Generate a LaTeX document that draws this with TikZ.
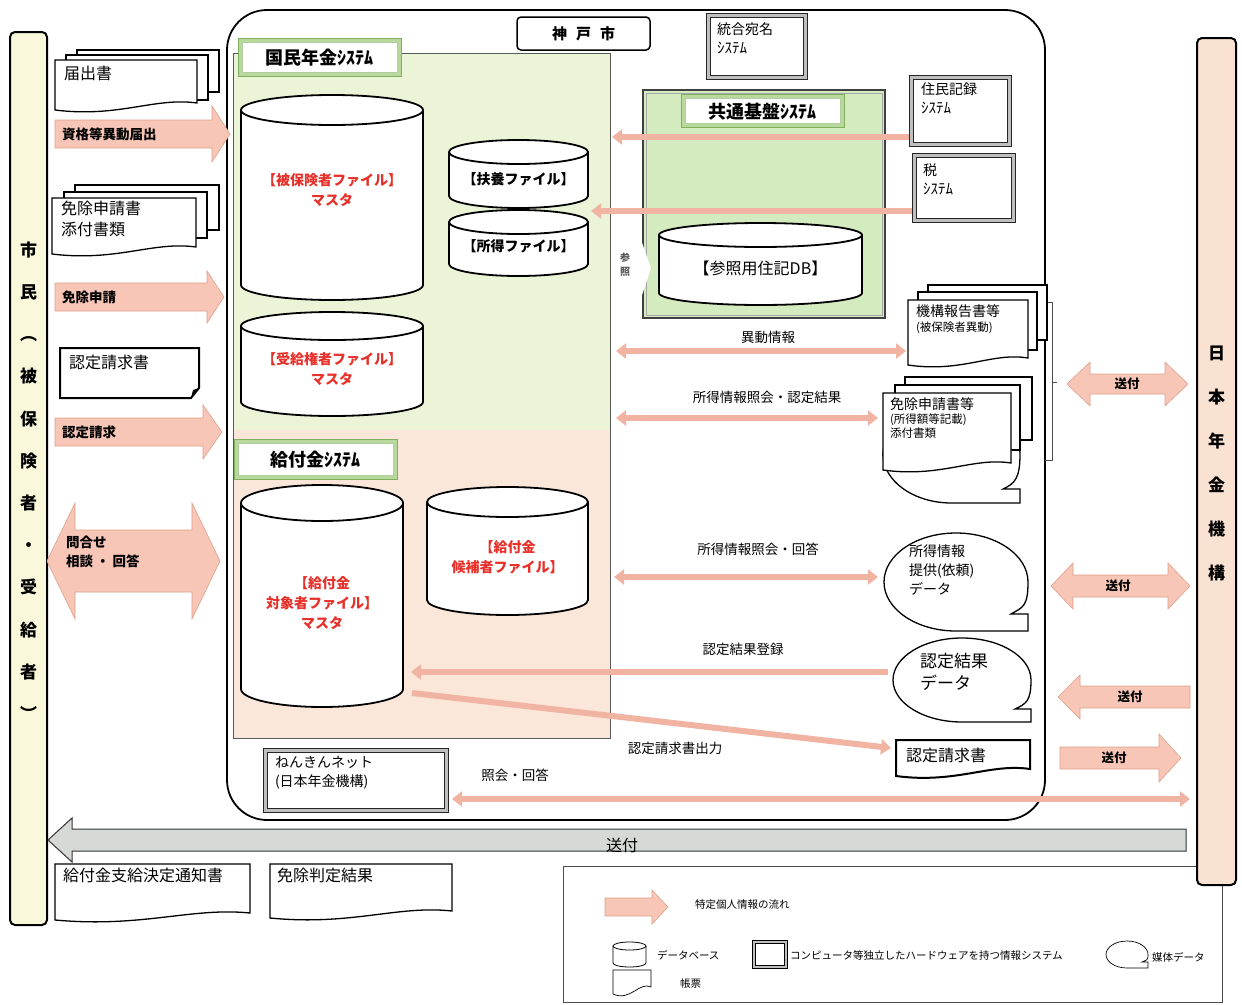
\documentclass[tikz,border=0pt]{standalone}
\usepackage{fontspec}
\setmainfont{Noto Sans CJK JP}
\usetikzlibrary{arrows.meta}
\definecolor{natg}{HTML}{ECF4D8}
\definecolor{kyuf}{HTML}{FBE6DA}
\definecolor{kyog}{HTML}{D4EBC0}
\definecolor{pinkF}{HTML}{F7C6B6}
\definecolor{pinkE}{HTML}{DFA08C}
\definecolor{pinkT}{HTML}{F1B4A2}
\definecolor{citz}{HTML}{FAF8DA}
\definecolor{jpn}{HTML}{FAE2D3}
\definecolor{hdrg}{HTML}{B8D89C}
\definecolor{hdrE}{HTML}{7FAF5F}
\definecolor{redt}{HTML}{E8302A}
\definecolor{greyA}{HTML}{D6DAD6}
\newcommand\cyl[6][dbline]{%
 \pgfmathsetmacro\ccx{(#2+#4)/2}\pgfmathsetmacro\crx{(#4-#2)/2}%
 \pgfmathsetmacro\cyt{#3+#6}\pgfmathsetmacro\cyb{#5-#6}%
 \draw[#1] (#2,\cyt) -- (#2,\cyb) arc[start angle=180,end angle=360,x radius=\crx pt,y radius=#6pt] -- (#4,\cyt);
 \draw[#1] (\ccx,\cyt) ellipse[x radius=\crx pt,y radius=#6pt];}
\newcommand\sysbox[4]{%
 \draw[fill=gray!50, draw=black!85, line width=1pt] (#1,#2) rectangle (#3,#4);
 \draw[fill=white, draw=black!85, line width=0.8pt] ({#1+4},{#2+4}) rectangle ({#3-4},{#4-4});}
\newcommand\hdrbox[4]{%
 \draw[fill=hdrg, draw=hdrE, line width=0.8pt] (#1,#2) rectangle (#3,#4);
 \draw[fill=white, draw=hdrE!60, line width=0.6pt] ({#1+4},{#2+4}) rectangle ({#3-4},{#4-4});}
\newcommand\docshape[5][docline]{%
 \pgfmathsetmacro\dcw{#4-#2}%
 \draw[#1] (#2,#3) -- (#4,#3) -- (#4,{#5-9}) .. controls ({#4-0.3*\dcw},{#5-15}) and ({#2+0.45*\dcw},{#5+6}) .. (#2,{#5-2}) -- cycle;}
\newcommand\bubble[7][docline]{%
 \pgfmathsetmacro\bcx{(#2+#4)/2}\pgfmathsetmacro\bcy{(#3+#5)/2}%
 \pgfmathsetmacro\brx{(#4-#2)/2}\pgfmathsetmacro\bry{(#5-#3)/2}%
 \pgfmathsetmacro\bkx{0.552*\brx}\pgfmathsetmacro\bky{0.552*\bry}%
 \draw[#1] (\bcx,#5) .. controls ({\bcx-\bkx},#5) and (#2,{\bcy+\bky}) .. (#2,\bcy)
   .. controls (#2,{\bcy-\bky}) and ({\bcx-\bkx},#3) .. (\bcx,#3)
   .. controls ({\bcx+\bkx},#3) and (#4,{\bcy-\bky}) .. (#4,\bcy)
   .. controls (#4,{\bcy+0.5*\bry}) and ({#4-#7*0.3},{#5-#6-#6*0.4}) .. ({#4-#7},{#5-#6})
   -- (#4,{#5-#6}) -- (#4,#5) -- cycle;}
\newcommand\blockR[7][blockpink]{%
 \pgfmathsetmacro\bxa{#3-#7}%
 \draw[#1] (#2,{#4-#5}) -- (\bxa,{#4-#5}) -- (\bxa,{#4-#6}) -- (#3,#4) -- (\bxa,{#4+#6}) -- (\bxa,{#4+#5}) -- (#2,{#4+#5}) -- cycle;}
\newcommand\blockL[7][blockpink]{%
 \pgfmathsetmacro\bxa{#2+#7}%
 \draw[#1] (#3,{#4-#5}) -- (\bxa,{#4-#5}) -- (\bxa,{#4-#6}) -- (#2,#4) -- (\bxa,{#4+#6}) -- (\bxa,{#4+#5}) -- (#3,{#4+#5}) -- cycle;}
\newcommand\blockD[7][blockpink]{%
 \pgfmathsetmacro\bxa{#2+#7}\pgfmathsetmacro\bxb{#3-#7}%
 \draw[#1] (#2,#4) -- (\bxa,{#4-#6}) -- (\bxa,{#4-#5}) -- (\bxb,{#4-#5}) -- (\bxb,{#4-#6}) -- (#3,#4) -- (\bxb,{#4+#6}) -- (\bxb,{#4+#5}) -- (\bxa,{#4+#5}) -- (\bxa,{#4+#6}) -- cycle;}
\begin{document}
\begin{tikzpicture}[x=1pt,y=-1pt,
  every node/.style={inner sep=0pt,outer sep=0pt},
  dbline/.style={draw=black,line width=1.8pt,fill=white},
  dbthin/.style={draw=black,line width=0.8pt,fill=white},
  docline/.style={draw=black,line width=1.3pt,fill=white},
  docthick/.style={draw=black,line width=2pt,fill=white},
  docthin/.style={draw=black,line width=0.7pt,fill=white},
  blockpink/.style={fill=pinkF,draw=pinkE,line width=0.6pt},
  greyar/.style={fill=greyA,draw=black!80,line width=1pt},
  thinar/.style={draw=pinkT,line width=6pt,-{Triangle[length=10pt,width=15pt]}},
  thinarD/.style={draw=pinkT,line width=6pt,{Triangle[length=10pt,width=15pt]}-{Triangle[length=10pt,width=15pt]}},
  redtxt/.style={text=redt,font=\fontsize{14}{20}\selectfont\bfseries,align=center},
  dbtxt/.style={font=\fontsize{14}{18}\selectfont\bfseries,align=center},
  hdrtxt/.style={font=\fontsize{18}{20}\selectfont\bfseries},
  lbl/.style={font=\fontsize{13.5}{15}\selectfont},
  arlbl/.style={font=\fontsize{13.5}{16}\selectfont\bfseries,anchor=west},
  sendlbl/.style={font=\fontsize{12.5}{14}\selectfont\bfseries},
  doctxt/.style={font=\fontsize{16}{21}\selectfont,align=left,anchor=north west},
  systxt/.style={font=\fontsize{14}{19}\selectfont,align=left,anchor=north west},
  smalltxt/.style={font=\fontsize{11.5}{14}\selectfont},
  legtxt/.style={font=\fontsize{10.5}{12}\selectfont,anchor=west},
]
\useasboundingbox (0,0) rectangle (1242,1004);
\fill[white] (0,0) rectangle (1242,1004);

% legend frame
\draw[line width=0.8pt, draw=gray!60!black] (563,866) rectangle (1222,1002);

% side columns
\draw[fill=citz, line width=2pt, rounded corners=5pt] (10,32) rectangle (47,925);
\node[font=\fontsize{17}{42.2}\selectfont\bfseries, align=center] (citizen) at (28.5,481)
 {市\\民\\︵\\被\\保\\険\\者\\・\\受\\給\\者\\︶};
\draw[fill=jpn, line width=2pt, rounded corners=5pt] (1197,38) rectangle (1236,885);
\node[font=\fontsize{17}{44}\selectfont\bfseries, align=center] (jpo) at (1216.5,464)
 {日\\本\\年\\金\\機\\構};

% Kobe city frame
\draw[line width=1.8pt, rounded corners=40pt] (227,10) rectangle (1045,820);
\draw[line width=1.5pt, rounded corners=4pt, fill=white] (517,17) rectangle (650,50);
\node[font=\fontsize{15}{17}\selectfont\bfseries] (kobe) at (583.5,33.5) {神\hspace{9pt}戸\hspace{9pt}市};

% system regions
\fill[natg] (233,53) rectangle (610,430);
\fill[kyuf] (233,430) rectangle (610,738);
\draw[gray!70!black, line width=0.9pt] (233,53) rectangle (610,738);
\hdrbox{238}{38}{401}{76}
\node[hdrtxt] (hNat) at (319.5,57.5) {国民年金ｼｽﾃﾑ};
\hdrbox{234}{439}{397}{479}
\node[hdrtxt] (hKyu) at (315.5,459.5) {給付金ｼｽﾃﾑ};

% databases
\cyl{241}{95}{423}{300}{15}
\node[redtxt] (dbHiho) at (332,190) {【被保険者ファイル】\\マスタ};
\cyl{241}{312}{423}{416}{14}
\node[redtxt] (dbJuky) at (332,369) {【受給権者ファイル】\\マスタ};
\cyl{449}{140}{588}{208}{12}
\node[dbtxt] (dbFuyo) at (518.5,179) {【扶養ファイル】};
\cyl{449}{210}{588}{276}{12}
\node[dbtxt] (dbShot) at (518.5,246) {【所得ファイル】};
\cyl{241}{485}{403}{707}{18}
\node[redtxt] (dbTais) at (322,603) {【給付金\\対象者ファイル】\\マスタ};
\cyl{427}{487}{588}{615}{15}
\node[redtxt] (dbKoho) at (507.5,557) {【給付金\\候補者ファイル】};

% common platform
\draw[fill=kyog, draw=gray!50!black, line width=1.6pt] (643,90) rectangle (885,318);
\draw[draw=gray!70, line width=0.5pt] (646,93) rectangle (882,315);
\hdrbox{681}{94}{844}{127}
\node[hdrtxt] (hKyo) at (762.5,112) {共通基盤ｼｽﾃﾑ};
\cyl{659}{223}{862}{305}{12}
\node[font=\fontsize{16}{18}\selectfont] (dbSan) at (760.5,268) {【参照用住記DB】};
\fill[white] (641,240) -- (651,268) -- (641,298) -- cycle;
\node[font=\fontsize{10}{14}\selectfont\bfseries, text=gray!70!black, align=center] (sansho) at (625,265) {参\\照};

% other systems
\sysbox{706}{13}{807}{79}
\node[systxt] (tougou) at (717,23) {統合宛名\\{\fontsize{15}{16}\selectfont ｼｽﾃﾑ}};
\sysbox{909}{75}{1011}{146}
\node[systxt] (jumin) at (921,83) {住民記録\\{\fontsize{15}{16}\selectfont ｼｽﾃﾑ}};
\sysbox{912}{153}{1015}{222}
\node[systxt] (zei) at (923,164) {税\\{\fontsize{15}{16}\selectfont ｼｽﾃﾑ}};
\sysbox{263}{748}{448}{812}
\node[systxt] (nenkin) at (275,756) {ねんきんネット\\(日本年金機構)};

% bracket
\draw[gray!60!black, line width=0.7pt] (1045,302) -- (1052,302) -- (1052,460) -- (1045,460);
\draw[gray!60!black, line width=0.7pt] (1052,382) -- (1057,382);

% right documents and media
\bubble{883}{405}{1020}{503}{14}{17}
\draw[docline] (928,285) rectangle (1047,340);
\draw[docline] (918,292) rectangle (1037,350);
\docshape{908}{300}{1028}{367}
\node[systxt] (kikou) at (916,305) {機構報告書等\\[-4pt]{\fontsize{11.5}{13}\selectfont (被保険者異動)}};
\draw[docline] (905,377) rectangle (1032,440);
\draw[docline] (895,385) rectangle (1020,450);
\docshape{883}{393}{1011}{472}
\node[systxt] (menjoR) at (890,398) {免除申請書等\\[-5pt]{\fontsize{11.5}{14}\selectfont (所得額等記載)}\\[-5pt]{\fontsize{11.5}{14}\selectfont 添付書類}};
\bubble{884}{533}{1028}{631}{17}{17}
\node[systxt] (shotokuD) at (909,545) {所得情報\\提供(依頼)\\データ};
\bubble{893}{638}{1031}{722}{13}{16}
\node[font=\fontsize{17}{22}\selectfont, align=left, anchor=north west] (ninteiD) at (920,653) {認定結果\\データ};
\docshape[docthick]{896}{740}{1030}{778}
\node[font=\fontsize{16}{18}\selectfont, anchor=west] (ninteiR) at (906,755) {認定請求書};

% thin arrows (flows inside)
\coordinate (jmA) at (909,137); \coordinate (jmB) at (612,137);
\draw[thinar] (jmA) -- (jmB);
\coordinate (zA) at (912,211); \coordinate (zB) at (591,211);
\draw[thinar] (zA) -- (zB);
\coordinate (idA) at (616,351); \coordinate (idB) at (906,351);
\draw[thinarD] (idA) -- (idB);
\node[lbl] (l1) at (768,337) {異動情報};
\coordinate (snA) at (616,418); \coordinate (snB) at (878,418);
\draw[thinarD] (snA) -- (snB);
\node[lbl] (l2) at (767,397) {所得情報照会・認定結果};
\coordinate (skA) at (614,577); \coordinate (skB) at (878,577);
\draw[thinarD] (skA) -- (skB);
\node[lbl] (l3) at (758,549) {所得情報照会・回答};
\coordinate (ntA) at (888,672); \coordinate (ntB) at (411,672);
\draw[thinar] (ntA) -- (ntB);
\node[lbl] (l4) at (743,649) {認定結果登録};
\coordinate (nsA) at (412,693); \coordinate (nsB) at (891,748);
\draw[thinar] (nsA) -- (nsB);
\node[lbl] (l5) at (675,748) {認定請求書出力};
\coordinate (skkA) at (452,799); \coordinate (skkB) at (1190,799);
\draw[thinarD] (skkA) -- (skkB);
\node[lbl] (l6) at (515,775) {照会・回答};

% left documents and arrows
\draw[docline] (77,50) rectangle (219,92);
\draw[docline] (66,55) rectangle (208,100);
\docshape{55}{60}{197}{112}
\node[doctxt] (todoke) at (64,66) {届出書};
\blockR{55}{230}{134}{14}{28}{18}
\node[arlbl] (a1) at (62,134) {資格等異動届出};
\draw[docline] (75,185) rectangle (219,230);
\draw[docline] (64,192) rectangle (207,238);
\docshape{52}{198}{196}{256}
\node[doctxt] (menjoL) at (61,201) {免除申請書\\添付書類};
\blockR{55}{224}{297}{14}{26}{17}
\node[arlbl] (a2) at (62,297) {免除申請};
\draw[docthick] (60,348) -- (199,348) -- (199,388) -- (191,398) -- (60,398) -- cycle;
\fill[black] (191,398) -- (193,390) -- (199,388) -- cycle;
\node[doctxt] (ninteiL) at (69,355) {認定請求書};
\blockR{55}{222}{432}{14}{27}{19}
\node[arlbl] (a3) at (62,432) {認定請求};
\blockD{47}{220}{561}{31}{58}{28}
\node[font=\fontsize{13.5}{19}\selectfont\bfseries, align=left, anchor=north west] (a4) at (66,536) {問合せ\\相談\ ・\ 回答};

% right send arrows
\blockD{1067}{1188}{384}{10}{22}{23}
\node[sendlbl] (s1) at (1127,384) {送付};
\blockD{1051}{1190}{586}{11}{23}{22}
\node[sendlbl] (s2) at (1118,586) {送付};
\blockL{1058}{1190}{697}{11}{22}{22}
\node[sendlbl] (s3) at (1130,697) {送付};
\blockR{1060}{1181}{758}{11}{24}{22}
\node[sendlbl] (s4) at (1114,758) {送付};

% grey send arrow to citizens
\blockL[greyar]{48}{1186}{840}{11}{22}{24}
\node[font=\fontsize{16}{18}\selectfont] (s5) at (622,845) {送付};

% bottom documents
\docshape{55}{864}{250}{922}
\node[doctxt] (kettei) at (63,868) {給付金支給決定通知書};
\docshape{270}{864}{452}{920}
\node[doctxt] (hantei) at (277,868) {免除判定結果};

% legend contents
\blockR{605}{668}{907}{9}{17}{16}
\node[legtxt] (lg1) at (695,905) {特定個人情報の流れ};
\cyl[dbthin]{613}{942}{646}{967}{4}
\node[legtxt] (lg2) at (657,955) {データベース};
\draw[fill=gray!50, draw=black, line width=1pt] (752,940) rectangle (787,968);
\draw[fill=white, draw=black, line width=0.7pt] (755,943) rectangle (784,965);
\node[legtxt] (lg3) at (790,955) {コンピュータ等独立したハードウェアを持つ情報システム};
\bubble[docthin]{1106}{941}{1148}{968}{6}{6}
\node[legtxt] (lg4) at (1152,957) {媒体データ};
\docshape[docthin]{613}{970}{651}{996}
\node[legtxt] (lg5) at (680,984) {帳票};
\end{tikzpicture}
\end{document}
